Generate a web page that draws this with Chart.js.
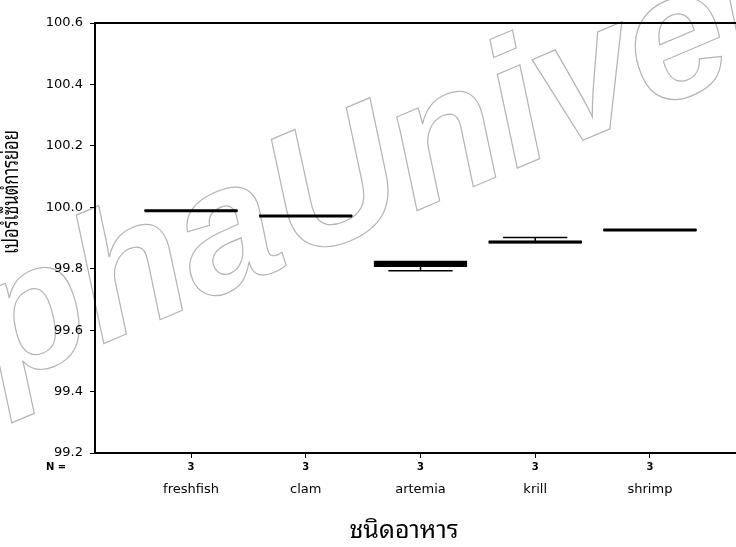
<!DOCTYPE html>
<html><head><meta charset="utf-8">
<script src="https://cdn.jsdelivr.net/npm/chart.js@4.4.1/dist/chart.umd.min.js"></script>
<style>html,body{margin:0;padding:0;background:#fff;}#wrap{width:736px;height:547px;position:relative;}</style>
</head><body><div id="wrap"><canvas id="c" width="736" height="547"></canvas></div>
<script>
// ---- data ----
const categories = ['freshfish', 'clam', 'artemia', 'krill', 'shrimp'];
const nValues = [3, 3, 3, 3, 3];
const minValues = [99.987, 99.970, 99.793, 99.883, 99.924];
const q1Values = [99.987, 99.970, 99.807, 99.883, 99.924];
const medianValues = [99.989, 99.972, 99.817, 99.887, 99.926];
const q3Values = [99.991, 99.974, 99.826, 99.890, 99.928];
const maxValues = [99.991, 99.974, 99.826, 99.902, 99.928];
const yTicks = [99.2, 99.4, 99.6, 99.8, 100.0, 100.2, 100.4, 100.6];
const xTitle = 'ชนิดอาหาร';
const yTitle = 'เปอร์เซ็นต์การย่อย';
const watermarkWords = ['Burapha', 'University'];

const THAI = '"Noto Sans Thai Looped","Noto Serif Thai","Norasi","Loma","Garuda","Noto Sans Thai",sans-serif';

const boxPlugin = {
  id: 'boxExtras',
  beforeDraw(chart) {
    const ctx = chart.ctx;
    ctx.save();
    ctx.translate(296, 262);
    ctx.rotate(-23 * Math.PI / 180);
    ctx.font = 'italic bold 178px "Liberation Sans", Arial, sans-serif';
    ctx.strokeStyle = '#b4b4b4';
    ctx.lineWidth = 1.2;
    ctx.textBaseline = 'alphabetic';
    ctx.textAlign = 'right';
    ctx.strokeText(watermarkWords[0], -4, 0);
    ctx.textAlign = 'left';
    ctx.strokeText(watermarkWords[1], 0, 0);
    ctx.restore();
  },
  afterDatasetsDraw(chart) {
    const ctx = chart.ctx;
    const xs = chart.scales.x, ys = chart.scales.y;
    ctx.save();
    ctx.strokeStyle = '#000';
    categories.forEach((c, i) => {
      const cx = xs.getPixelForValue(i);
      const capHalf = (xs.getPixelForValue(i + 0.28) - xs.getPixelForValue(i - 0.28)) / 2;
      const boxHalf = (xs.getPixelForValue(i + 0.405) - xs.getPixelForValue(i - 0.405)) / 2;
      const yMin = ys.getPixelForValue(minValues[i]);
      const yMax = ys.getPixelForValue(maxValues[i]);
      const yQ1 = ys.getPixelForValue(q1Values[i]);
      const yQ3 = ys.getPixelForValue(q3Values[i]);
      const yMed = ys.getPixelForValue(medianValues[i]);
      ctx.lineWidth = 1.5;
      ctx.beginPath();
      if (yMin - yQ1 > 0.5) { ctx.moveTo(cx, yQ1); ctx.lineTo(cx, yMin); ctx.moveTo(cx - capHalf, yMin); ctx.lineTo(cx + capHalf, yMin); }
      if (yQ3 - yMax > 0.5) { ctx.moveTo(cx, yQ3); ctx.lineTo(cx, yMax); ctx.moveTo(cx - capHalf, yMax); ctx.lineTo(cx + capHalf, yMax); }
      ctx.stroke();
      ctx.lineWidth = 3;
      ctx.beginPath();
      ctx.moveTo(cx - boxHalf, yMed); ctx.lineTo(cx + boxHalf, yMed);
      ctx.stroke();
    });
    ctx.restore();
  },
  afterDraw(chart) {
    const ctx = chart.ctx;
    const a = chart.chartArea;
    const xs = chart.scales.x;
    ctx.save();
    // top frame line
    ctx.strokeStyle = '#000';
    ctx.lineWidth = 2;
    ctx.beginPath();
    ctx.moveTo(a.left - 1, a.top); ctx.lineTo(a.right, a.top);
    ctx.stroke();
    // N row
    ctx.fillStyle = '#000';
    ctx.font = 'bold 10px "DejaVu Sans", sans-serif';
    ctx.textBaseline = 'middle';
    ctx.textAlign = 'left';
    ctx.fillText('N =', 46, 467);
    ctx.textAlign = 'center';
    nValues.forEach((n, i) => ctx.fillText(String(n), xs.getPixelForValue(i), 467));
    ctx.restore();
    // x title
    ctx.save();
    ctx.fillStyle = '#000';
    ctx.translate(404, 531);
    ctx.font = '25px ' + THAI;
    ctx.textAlign = 'center';
    ctx.textBaseline = 'middle';
    ctx.fillText(xTitle, 0, 0);
    ctx.restore();
    // y title
    ctx.save();
    ctx.fillStyle = '#000';
    ctx.translate(12, 192);
    ctx.rotate(-Math.PI / 2);
    ctx.scale(0.75, 1);
    ctx.font = '22px ' + THAI;
    ctx.textAlign = 'center';
    ctx.textBaseline = 'middle';
    ctx.fillText(yTitle, 0, 0);
    ctx.restore();
  }
};

new Chart(document.getElementById('c'), {
  type: 'bar',
  data: {
    datasets: [{
      data: categories.map((c, i) => ({ x: i, y: [q1Values[i], q3Values[i]] })),
      backgroundColor: '#000',
      borderColor: '#000',
      borderWidth: 2,
      borderSkipped: false,
      barThickness: 93
    }]
  },
  options: {
    responsive: false,
    animation: false,
    events: [],
    layout: { padding: { top: 23, left: 0, right: 0, bottom: 0 } },
    plugins: { legend: { display: false }, tooltip: { enabled: false } },
    scales: {
      x: {
        type: 'linear',
        offset: false,
        min: -0.837, max: 4.75,
        afterBuildTicks: s => { s.ticks = categories.map((c, i) => ({ value: i })); },
        afterFit: s => { s.height = 94; },
        ticks: {
          callback: v => categories[v],
          color: '#000',
          font: { family: '"DejaVu Sans", sans-serif', size: 13 },
          padding: 24,
          maxRotation: 0, autoSkip: false
        },
        grid: { display: true, offset: false, drawOnChartArea: false, drawTicks: true, tickLength: 5, color: '#000', lineWidth: 1 },
        border: { display: true, color: '#000', width: 2 }
      },
      y: {
        min: 99.2, max: 100.6,
        afterBuildTicks: s => { s.ticks = yTicks.map(v => ({ value: v })); },
        afterFit: s => { s.width = 95; },
        ticks: {
          callback: v => Number(v).toFixed(1),
          color: '#000',
          font: { family: '"DejaVu Sans", sans-serif', size: 13 },
          padding: 7
        },
        grid: { display: true, drawOnChartArea: false, drawTicks: true, tickLength: 5, color: '#000', lineWidth: 1 },
        border: { display: true, color: '#000', width: 2 }
      }
    }
  },
  plugins: [boxPlugin]
});
</script>
</body></html>
